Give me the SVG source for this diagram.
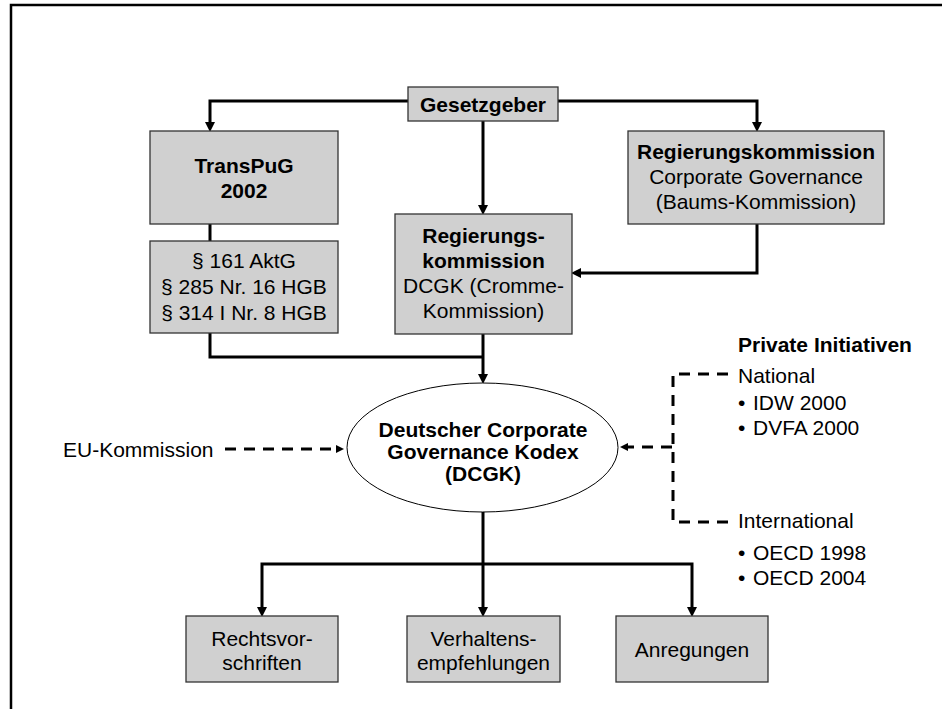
<svg xmlns="http://www.w3.org/2000/svg" width="947" height="709" viewBox="0 0 947 709">
  <style>
    text { font-family: "Liberation Sans", Arial, sans-serif; font-size: 21px; fill: #000; }
    .b { font-weight: bold; }
    .c { text-anchor: middle; }
    .box { fill: #d0d0d0; stroke: #333; stroke-width: 1.3; }
    .con { fill: none; stroke: #000; stroke-width: 3; }
    .dash { fill: none; stroke: #000; stroke-width: 3; stroke-dasharray: 11 8; }
  </style>
  <defs>
    <marker id="ah" markerUnits="userSpaceOnUse" markerWidth="10" markerHeight="10" viewBox="0 0 9 9" refX="0" refY="4.5" orient="auto">
      <path d="M0,0 L9,4.5 L0,9 z" fill="#000"/>
    </marker>
    <marker id="ahs" markerUnits="userSpaceOnUse" markerWidth="8" markerHeight="8" viewBox="0 0 8 8" refX="0" refY="4" orient="auto">
      <path d="M0,0 L8,4 L0,8 z" fill="#000"/>
    </marker>
  </defs>

  <rect width="947" height="709" fill="#fff"/>
  <!-- frame -->
  <path d="M11,709 V5 H942" fill="none" stroke="#000" stroke-width="2.5"/>

  <g id="connectors">
    <path class="con" d="M408,101 H210 V122" marker-end="url(#ah)"/>
    <path class="con" d="M558,101 H757 V122" marker-end="url(#ah)"/>
    <path class="con" d="M483,121 V205" marker-end="url(#ah)"/>
    <path class="con" d="M757,224 V273 H581" marker-end="url(#ah)"/>
    <path class="con" d="M210,224 V241"/>
    <path class="con" d="M210,333 V357 H483"/>
    <path class="con" d="M483,334 V374" marker-end="url(#ah)"/>
    <path class="con" d="M483,512 V607" marker-end="url(#ah)"/>
    <path class="con" d="M483,564 H262 V607" marker-end="url(#ah)"/>
    <path class="con" d="M483,564 H692 V607" marker-end="url(#ah)"/>
    <path class="dash" d="M225,449 H336" marker-end="url(#ahs)"/>
    <path class="dash" d="M728,374 H673 V522 H728"/>
    <path class="dash" d="M672,447 H628" marker-end="url(#ahs)"/>
  </g>

  <g id="gesetzgeber">
    <rect class="box" x="408" y="87" width="150" height="34"/>
    <text class="b c" x="483" y="112">Gesetzgeber</text>
  </g>
  <g id="transpug">
    <rect class="box" x="150" y="131" width="188" height="93"/>
    <text class="b c" x="244" y="173">TransPuG</text>
    <text class="b c" x="244" y="198">2002</text>
  </g>
  <g id="paragraphen">
    <rect class="box" x="150" y="241" width="188" height="92"/>
    <text class="c" x="244" y="268">§ 161 AktG</text>
    <text class="c" x="244" y="294">§ 285 Nr. 16 HGB</text>
    <text class="c" x="244" y="320">§ 314 I Nr. 8 HGB</text>
  </g>
  <g id="cromme">
    <rect class="box" x="395" y="214" width="177" height="120"/>
    <text class="b c" x="483.5" y="243">Regierungs-</text>
    <text class="b c" x="483.5" y="268">kommission</text>
    <text class="c" x="483.5" y="293">DCGK (Cromme-</text>
    <text class="c" x="483.5" y="318">Kommission)</text>
  </g>
  <g id="baums">
    <rect class="box" x="628" y="131" width="256" height="93"/>
    <text class="b c" x="756" y="159">Regierungskommission</text>
    <text class="c" x="756" y="184">Corporate Governance</text>
    <text class="c" x="756" y="209">(Baums-Kommission)</text>
  </g>
  <g id="dcgk">
    <ellipse cx="482.5" cy="447.5" rx="135.5" ry="64.5" fill="#fff" stroke="#000" stroke-width="1"/>
    <text class="b c" x="483" y="437">Deutscher Corporate</text>
    <text class="b c" x="483" y="459">Governance Kodex</text>
    <text class="b c" x="483" y="481">(DCGK)</text>
  </g>
  <g id="eu">
    <text x="63" y="457">EU-Kommission</text>
  </g>
  <g id="private">
    <text class="b" x="738" y="352">Private Initiativen</text>
    <text x="738" y="383">National</text>
    <text x="738" y="410">•</text><text x="753" y="410">IDW 2000</text>
    <text x="738" y="435">•</text><text x="753" y="435">DVFA 2000</text>
    <text x="738" y="528">International</text>
    <text x="738" y="560">•</text><text x="753" y="560">OECD 1998</text>
    <text x="738" y="585">•</text><text x="753" y="585">OECD 2004</text>
  </g>
  <g id="rechtsvorschriften">
    <rect class="box" x="186" y="616" width="152" height="66"/>
    <text class="c" x="262" y="646">Rechtsvor-</text>
    <text class="c" x="262" y="670">schriften</text>
  </g>
  <g id="verhaltensempfehlungen">
    <rect class="box" x="407" y="616" width="153" height="66"/>
    <text class="c" x="483.5" y="646">Verhaltens-</text>
    <text class="c" x="483.5" y="670">empfehlungen</text>
  </g>
  <g id="anregungen">
    <rect class="box" x="616" y="616" width="152" height="66"/>
    <text class="c" x="692" y="657">Anregungen</text>
  </g>
</svg>
